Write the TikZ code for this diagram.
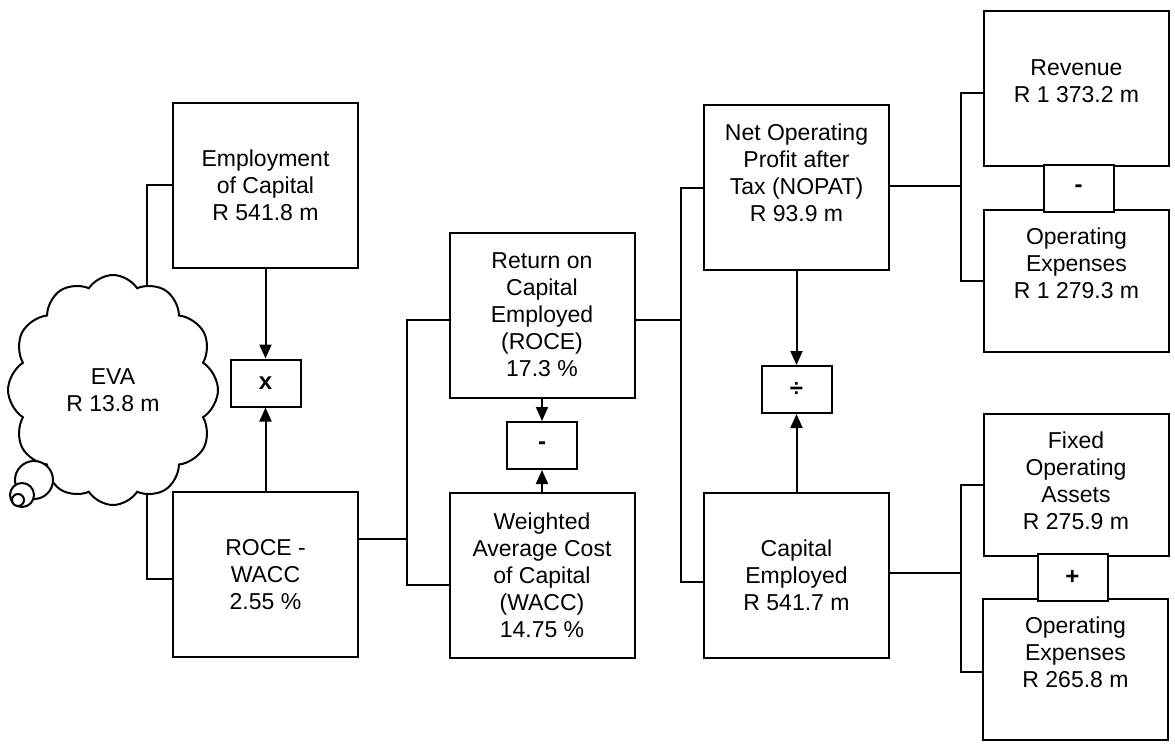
\documentclass[tikz,border=0pt]{standalone}
\usepackage{fontspec}
\setmainfont{Liberation Sans}
\usetikzlibrary{shapes.symbols,arrows.meta}

\begin{document}
\begin{tikzpicture}[x=0.5pt,y=-0.5pt,line width=1pt,
  every node/.style={font=\fontsize{11.5}{13.5}\selectfont,align=center,inner sep=0pt},
  box/.style={draw,rectangle,minimum width=92.5pt,minimum height=82.5pt},
  opbox/.style={draw,rectangle,fill=white,minimum width=35pt,minimum height=23.5pt,font=\fontsize{12}{13.5}\selectfont\bfseries},
  arr/.style={-{Triangle[length=7pt,width=6pt]}}]
  \useasboundingbox (0,0) rectangle (1175,745);

  \node[box] (emp) at (265.5,185) {Employment\\of Capital\\R 541.8 m};
  \node[opbox] (times) at (265.5,383) {x};
  \node[box] (rw) at (265.5,574.5) {ROCE -\\WACC\\2.55 \%};

  \node[box] (roce) at (542,315) {Return on\\Capital\\Employed\\(ROCE)\\17.3 \%};
  \node[opbox] (minus) at (542,445.5) {-};
  \node[box] (wacc) at (542,575) {Weighted\\Average Cost\\of Capital\\(WACC)\\14.75 \%};

  \node[box] (nopat) at (796.5,187.5) {};
  \node (nopattext) at ([yshift=7.5pt]nopat.center) {Net Operating\\Profit after\\Tax (NOPAT)\\R 93.9 m};
  \node[opbox] (div) at (796.5,389.5) {÷};
  \node[box] (ce) at (796.5,575) {Capital\\Employed\\R 541.7 m};

  \node[box,minimum height=77.5pt] (rev) at (1076.5,88.5) {};
  \node (revtext) at ([yshift=3.5pt]rev.center) {Revenue\\R 1 373.2 m};
  \node[box,minimum height=71pt] (opex) at (1076.5,281) {};
  \node (opextext) at ([yshift=9pt]opex.center) {Operating\\Expenses\\R 1 279.3 m};
  \node[opbox] (sub) at (1078.5,188.5) {-};

  \node[box,minimum height=71pt] (fix) at (1076,485) {};
  \node (fixtext) at ([yshift=2pt]fix.center) {Fixed\\Operating\\Assets\\R 275.9 m};
  \node[box,minimum height=70.5pt] (opexb) at (1075.5,669.5) {};
  \node (opexbtext) at ([yshift=8.75pt]opexb.center) {Operating\\Expenses\\R 265.8 m};
  \node[opbox] (add) at (1072.5,577.5) {+};

  \draw (emp.west) -- ++(-25,0) |- ([yshift=-2pt]rw.west);
  \node[cloud,draw,fill=white,cloud puffs=12,cloud puff arc=115,aspect=0.9,
    minimum width=105pt,minimum height=115pt] (eva) at (113,390) {EVA\\R 13.8 m};
  \draw[fill=white] (34,480) circle (19);
  \draw[fill=white] (22,495) circle (12);
  \draw[fill=white] (18,500) circle (6);

  \draw[arr] (emp.south) -- (times.north);
  \draw[arr] (rw.north) -- (times.south);
  \draw[arr] (roce.south) -- (minus.north);
  \draw[arr] (wacc.north) -- (minus.south);
  \draw[arr] (nopat.south) -- (div.north);
  \draw[arr] (ce.north) -- (div.south);

  \draw ([yshift=18pt]rw.east) -- ++(48,0) coordinate (j1);
  \draw ([yshift=-2.5pt]roce.west) -| (j1) |- ([yshift=-5pt]wacc.west);
  \draw ([yshift=-2.5pt]roce.east) -- ++(45,0) coordinate (j2);
  \draw (nopat.west) -| (j2) |- ([yshift=-3.5pt]ce.west);
  \draw ([yshift=1pt]nopat.east) -- ++(71,0) coordinate (j3);
  \draw ([yshift=-2pt]rev.west) -| (j3) |- (opex.west);
  \draw ([yshift=1pt]ce.east) -- ++(71,0) coordinate (j4);
  \draw (fix.west) -| (j4) |- ([yshift=-1pt]opexb.west);
\end{tikzpicture}
\end{document}
